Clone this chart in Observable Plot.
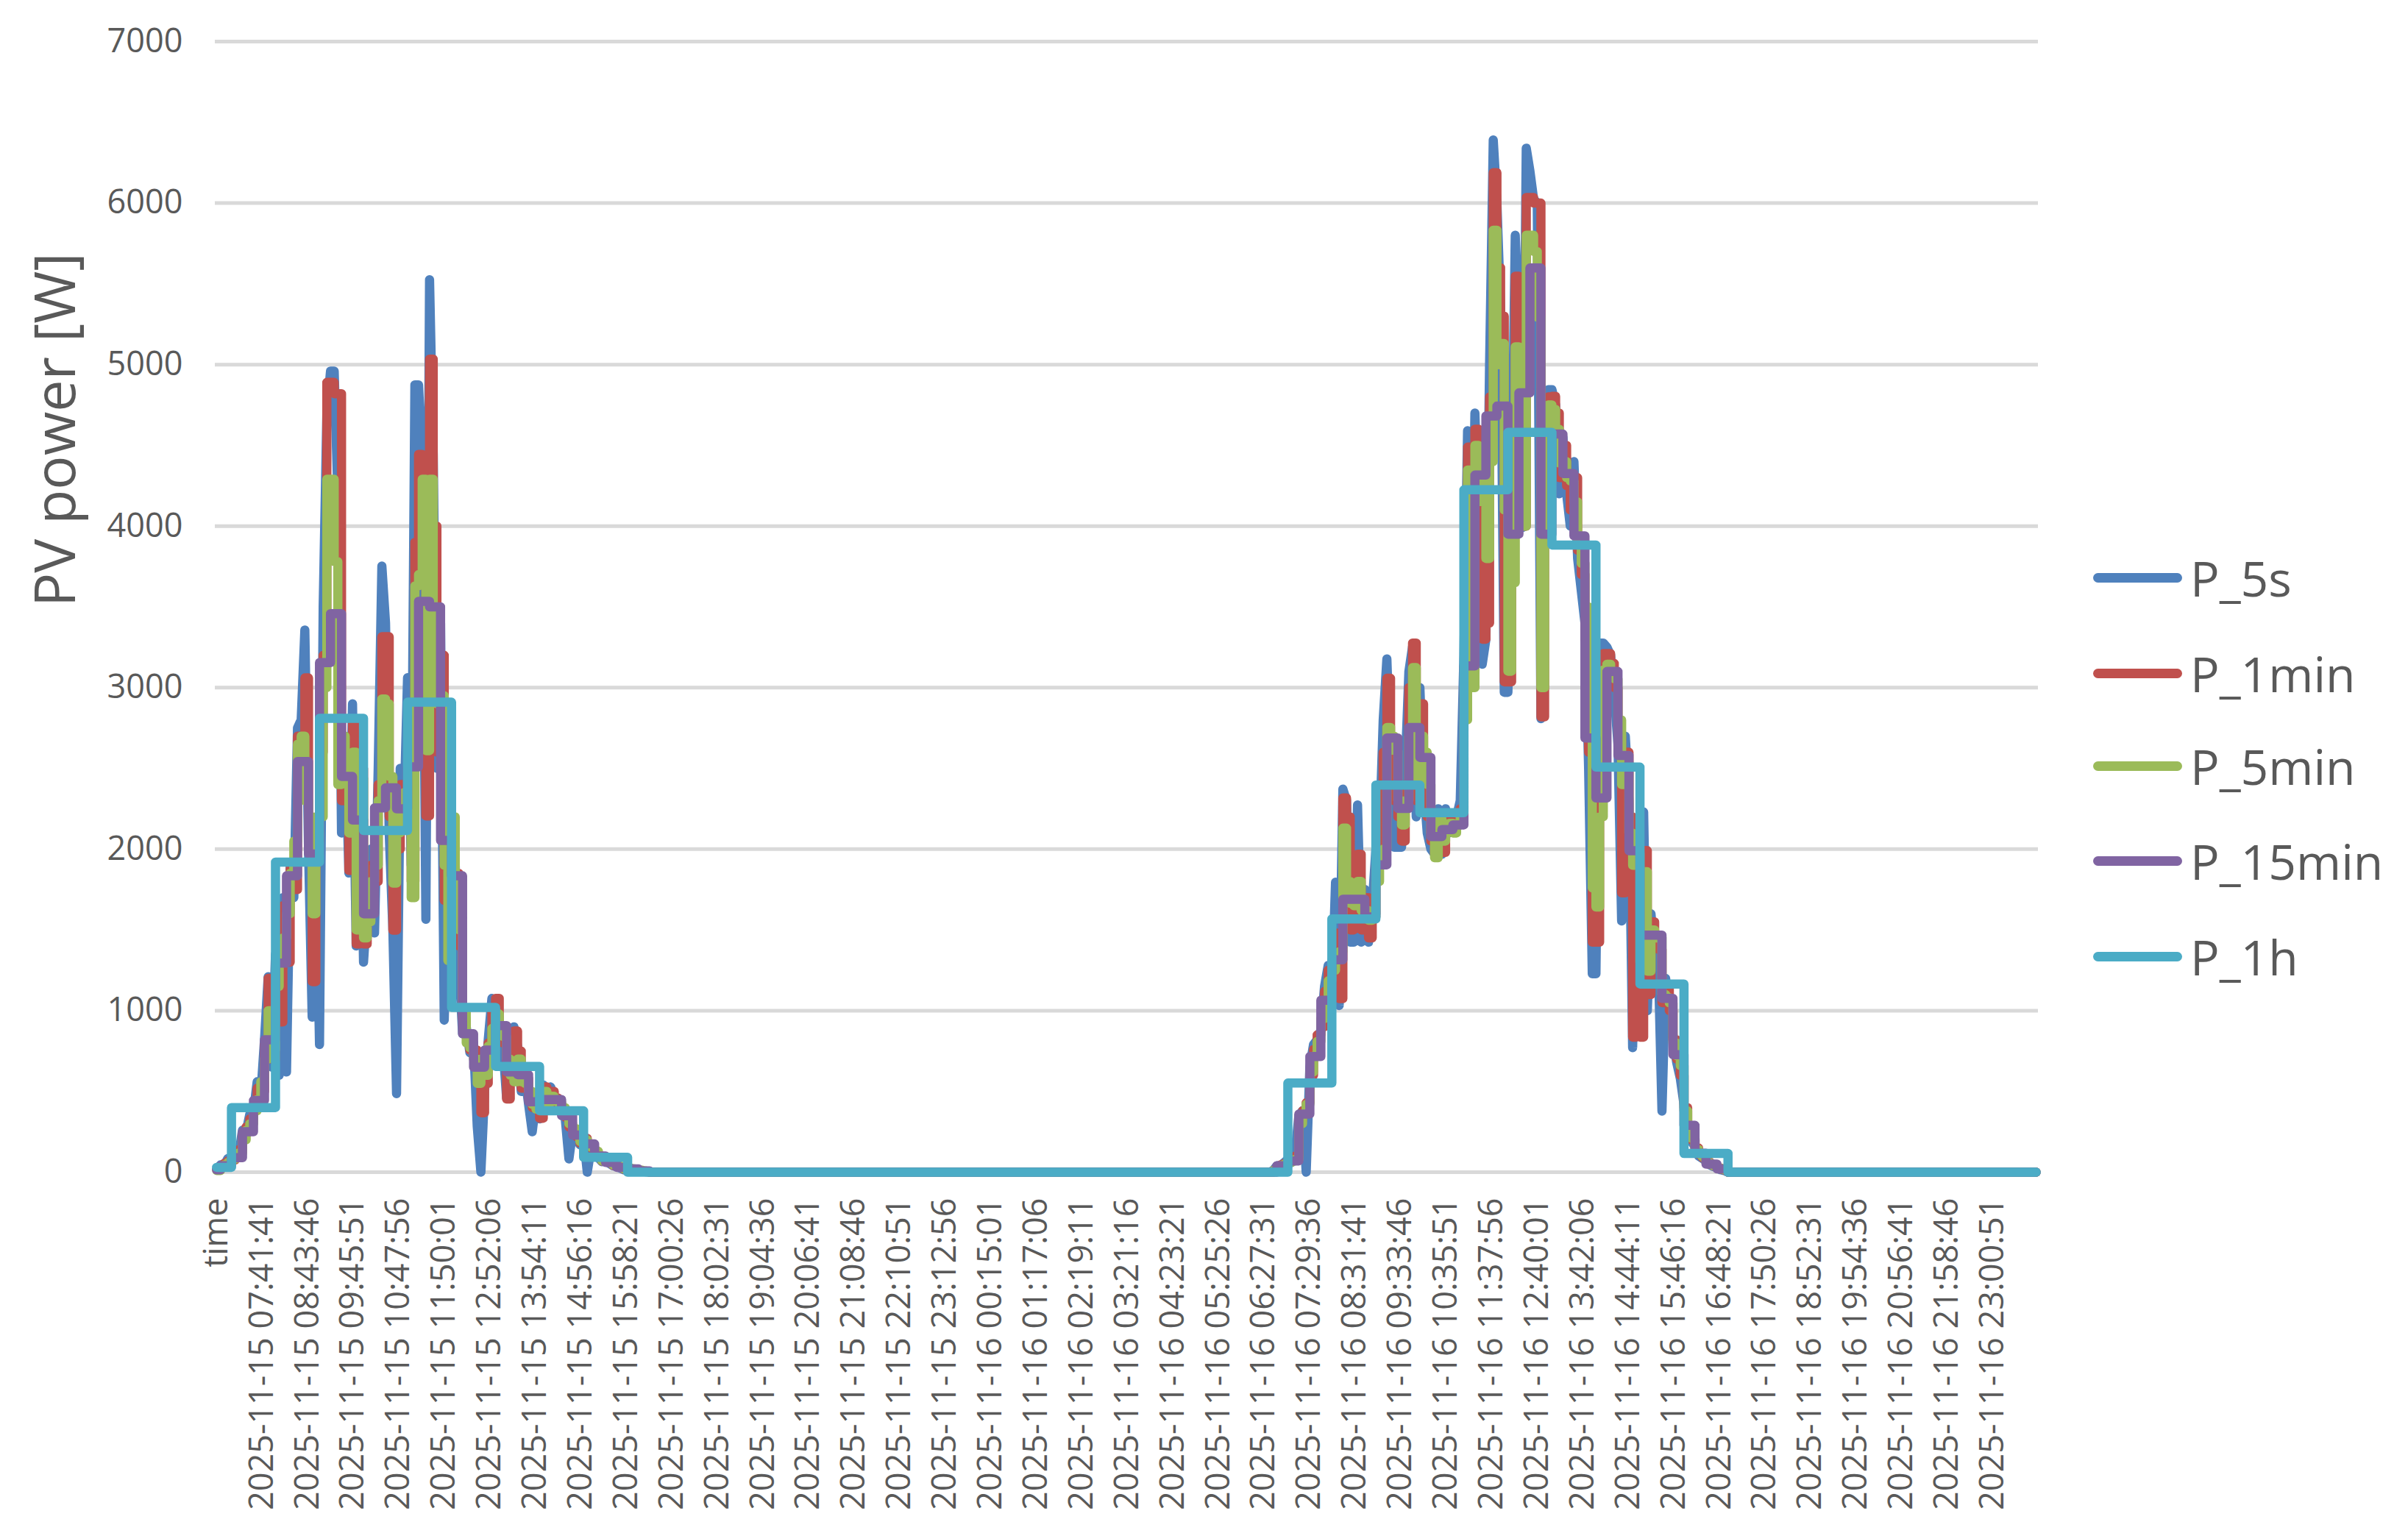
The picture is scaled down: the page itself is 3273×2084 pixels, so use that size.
<!DOCTYPE html>
<html><head><meta charset="utf-8">
<script src="https://cdn.jsdelivr.net/npm/d3@7"></script>
<script src="https://cdn.jsdelivr.net/npm/@observablehq/plot@0.6"></script>
<style>
html,body{margin:0;padding:0;background:#fff;}
#wrap{position:relative;width:3273px;height:2084px;overflow:hidden;font-family:"Open Sans",sans-serif;}
#wrap svg{position:absolute;left:0;top:0;}
.item{position:absolute;left:2845px;height:100px;display:flex;align-items:center;white-space:nowrap;}
.swatch{width:121px;height:13px;border-radius:6.5px;}
.lab{font-size:66px;color:#595959;margin-left:11px;line-height:1;}
</style></head>
<body><div id="wrap"></div>
<script>
// ---------- data ----------
const seriesNames = ["P_5s", "P_1min", "P_5min", "P_15min", "P_1h"];
const seriesColors = ["#4F81BD", "#C0504D", "#9BBB59", "#8064A2", "#4BACC6"];
const dataStart = "2025-11-15 06:39:41";
const dataEnd = "2025-11-16 23:59:55";

// P_5s, 5-minute readings, day 1 from 06:40, day 2 from 06:35
const p5s_d1 = [20,45,40,85,
 60,130,110,260,250,360,370,560,480,820,1210,650,
 1350,600,1700,620,1900,1700,2750,2800,3357,2000,960,2000,
 790,3500,4700,4960,4960,4200,2100,2700,1852,2900,1400,2600,
 1300,1650,2000,1481,2500,3753,3400,2100,1500,486,2500,2200,
 3062,1900,4874,4874,4400,1565,5526,4444,2500,3400,941,1800,
 2100,1900,1300,857,900,740,800,284,0,500,820,1076,
 1050,850,780,461,700,900,780,500,600,420,250,440,
 330,540,460,528,470,410,360,330,82,250,210,170,
 220,0,145,120,90,65,70,55,40,35,25,15,
 20,15,12,8,5,2,0];
const p5s_d2 = [0,10,40,35,60,
 80,60,120,350,380,0,650,790,820,880,1150,1280,
 1100,1795,1032,2372,2300,1424,1424,2274,1424,1750,1424,1650,
 2000,2100,2800,3178,2500,2012,2012,2012,2500,3100,3254,2200,
 3000,2400,2100,2000,1969,2250,1969,2250,2100,2150,2200,2300,
 3200,4591,3200,4700,4000,3145,3300,5000,6391,6000,5354,2971,
 2971,4200,5801,5200,3991,6340,6198,6025,6000,2808,4300,4845,
 4845,4750,4200,4550,4200,4000,4400,3800,3600,3400,2500,1228,
 1228,3276,3276,3250,3200,2950,2650,1555,2700,2300,771,1700,
 1200,2230,1000,1600,1350,1300,378,1200,950,850,680,580,
 420,260,190,160,100,85,70,45,35,28,15,10,
 0];

// P_1min
const p1min_d1 = [15,35,55,70,
 75,110,140,230,280,330,400,520,500,790,1200,700,
 1300,930,1650,1300,1880,1750,2700,2700,3060,2200,1180,2050,
 2600,3200,4890,4890,4820,4820,2300,2600,1868,2800,1413,2500,
 1413,1600,1900,1800,2400,3315,3315,2200,1498,2000,2400,2300,
 2400,1800,3900,4444,4300,2206,5034,4000,2600,3200,1683,1700,
 2155,1850,1400,950,857,756,756,650,368,550,800,1000,
 1076,880,800,453,650,874,750,520,580,450,400,420,
 334,528,450,500,460,420,380,340,280,260,220,180,
 210,160,150,125,95,68,72,58,42,38,28,18,
 22,18,14,10,6,3,0];
const p1min_d2 = [0,10,35,45,55,
 70,80,100,320,380,430,600,760,850,900,1120,1250,
 1150,1480,1075,2317,2200,1500,1700,1969,1500,1700,1450,1600,
 1900,2050,2600,3058,2600,2300,2200,2050,2400,3000,3276,2300,
 2900,2500,2200,2050,1969,2200,1980,2200,2150,2120,2200,2250,
 3000,4489,3100,4600,4100,3300,3400,4800,6188,5600,5300,3036,
 3036,4000,5547,5000,4000,6035,6035,6000,6000,2819,4200,4800,
 4804,4700,4300,4500,4250,4100,4300,3850,3700,3300,2600,1424,
 1424,2800,3211,3211,3150,3000,2700,1729,2600,2200,836,1800,
 836,1991,1100,1550,1400,1380,1050,1150,1000,820,700,600,
 400,270,200,150,110,90,65,48,38,26,18,12,
 0];

// P_5min
const p5min_d1 = [10,30,45,60,
 80,95,120,200,260,300,380,450,560,700,1000,760,
 1150,1300,1450,1600,1850,2050,2650,2700,2300,2150,1600,2200,
 2200,3000,4290,4290,3780,2400,2700,2550,2100,2600,1500,2440,
 1450,1550,1800,1900,2300,2930,2900,2450,1790,2100,2300,2350,
 2200,1700,3630,3700,4290,2610,4290,3300,2900,2950,1900,1310,
 2200,1800,1500,1000,800,770,700,550,700,600,780,890,
 980,900,840,700,600,560,700,560,550,500,420,390,
 420,500,430,470,450,430,400,350,300,270,230,190,
 200,170,155,130,100,70,75,60,45,40,30,20,
 25,20,15,12,8,4,0];
const p5min_d2 = [0,10,30,40,50,
 60,70,80,300,360,420,620,720,810,950,1060,1185,
 1250,1330,1365,2130,1800,1664,1650,1800,1620,1620,1560,1580,
 1800,1950,2000,2753,2700,2610,2300,2150,2300,2700,3124,2440,
 2700,2600,2400,2100,1947,2190,2050,2150,2160,2100,2150,2200,
 2800,4347,3000,4500,4300,4150,3800,4400,5832,5000,5130,4100,
 3102,3650,5110,4800,4000,5801,5801,5700,5293,3000,4100,4750,
 4723,4600,4390,4400,4300,4280,4150,3900,3770,3500,2800,1760,
 1642,2200,3110,3145,3100,3055,2800,2400,2540,2100,1900,1970,
 1300,1860,1244,1500,1450,1454,1100,1080,1048,800,720,660,
 380,280,210,140,115,96,60,50,40,25,20,15,
 0];

// P_15min, quarter-hour values from 06:30
const p15min_d1 = [15,40, 90,250,444,820, 1295,1835,2543,1970, 3155,3458,2450,2180,
 1600,2256,2380,2250, 2509,3534,3500,2054, 1835,857,650,756, 908,621,604,436,
 450,450,350,230, 175,100,60,30, 20,8,0];
const p15min_d2 = [0,40, 70,360,716,1065, 1315,1690,1690,1580, 1903,2688,2252,2753,
 2568,2078,2121,2150, 3134,4316,4682,4743, 3950,4825,5598,3950, 4570,4326,3940,2688,
 2317,3100,2580,1990, 1468,1468,1076,727, 290,117,50,20, 0];

// P_1h, hourly values from 06:00
const p1h_d1 = [30,400,1920,2810,2115,2910,1020,655,380,92,0];
const p1h_d2 = [0,552,1568,2397,2226,4225,4580,3883,2508,1165,116,0];

const yTicks = [0,1000,2000,3000,4000,5000,6000,7000];
const tickLabels = ["time",
 "2025-11-15 07:41:41","2025-11-15 08:43:46","2025-11-15 09:45:51","2025-11-15 10:47:56",
 "2025-11-15 11:50:01","2025-11-15 12:52:06","2025-11-15 13:54:11","2025-11-15 14:56:16",
 "2025-11-15 15:58:21","2025-11-15 17:00:26","2025-11-15 18:02:31","2025-11-15 19:04:36",
 "2025-11-15 20:06:41","2025-11-15 21:08:46","2025-11-15 22:10:51","2025-11-15 23:12:56",
 "2025-11-16 00:15:01","2025-11-16 01:17:06","2025-11-16 02:19:11","2025-11-16 03:21:16",
 "2025-11-16 04:23:21","2025-11-16 05:25:26","2025-11-16 06:27:31","2025-11-16 07:29:36",
 "2025-11-16 08:31:41","2025-11-16 09:33:46","2025-11-16 10:35:51","2025-11-16 11:37:56",
 "2025-11-16 12:40:01","2025-11-16 13:42:06","2025-11-16 14:44:11","2025-11-16 15:46:16",
 "2025-11-16 16:48:21","2025-11-16 17:50:26","2025-11-16 18:52:31","2025-11-16 19:54:36",
 "2025-11-16 20:56:41","2025-11-16 21:58:46","2025-11-16 23:00:51"];

// ---------- build ----------
const T0 = Date.UTC(2025, 10, 15);
function toH(s) {
  const [d, t] = s.split(" ");
  const [Y, M, D] = d.split("-").map(Number);
  const [hh, mm, ss = 0] = t.split(":").map(Number);
  return (Date.UTC(Y, M - 1, D, hh, mm, ss) - T0) / 3.6e6;
}
const H_START = toH(dataStart), H_END = toH(dataEnd);
function rows(parts) {
  const out = [];
  for (const [start, step, values] of parts) {
    const s = toH(start);
    values.forEach((v, i) => out.push({h: Math.max(s + i * step / 60, H_START), v}));
  }
  out.push({h: H_END, v: 0});
  return out;
}
const series = [
  {rows: rows([["2025-11-15 06:40", 5, p5s_d1], ["2025-11-16 06:35", 5, p5s_d2]]), curve: "linear"},
  {rows: rows([["2025-11-15 06:40", 5, p1min_d1], ["2025-11-16 06:35", 5, p1min_d2]]), curve: "step-after"},
  {rows: rows([["2025-11-15 06:40", 5, p5min_d1], ["2025-11-16 06:35", 5, p5min_d2]]), curve: "step-after"},
  {rows: rows([["2025-11-15 06:30", 15, p15min_d1], ["2025-11-16 06:30", 15, p15min_d2]]), curve: "step-after"},
  {rows: rows([["2025-11-15 06:00", 60, p1h_d1], ["2025-11-16 06:00", 60, p1h_d2]]), curve: "step-after"}
];
const tickPos = tickLabels.map(l => l === "time" ? H_START - 5 / 3600 : toH(l));
const labelByPos = new Map(tickPos.map((p, i) => [p, tickLabels[i]]));

const chart = Plot.plot({
  width: 2830, height: 2084,
  marginLeft: 292, marginRight: 60, marginTop: 56, marginBottom: 491,
  x: {type: "linear", domain: [6.63, 48.05]},
  y: {domain: [0, 7000]},
  style: {fontFamily: "'Open Sans', sans-serif", color: "#595959", background: "#fff", overflow: "visible"},
  marks: [
    Plot.ruleY(yTicks, {stroke: "#d9d9d9", strokeWidth: 5}),
    Plot.axisY(yTicks, {tickSize: 0, tickPadding: 44, fontSize: 45, tickFormat: d => String(d), label: null}),
    Plot.axisX(tickPos, {tickSize: 0, tickPadding: 35, fontSize: 45, tickRotate: -90,
      tickFormat: d => labelByPos.get(d), label: null}),
    ...series.map((s, i) => Plot.line(s.rows, {x: "h", y: "v", stroke: seriesColors[i], strokeWidth: 12.5,
      curve: s.curve, strokeLinecap: "round", strokeLinejoin: "round"})),
    Plot.text(["PV power [W]"], {text: d => d, frameAnchor: "left", dx: -215, rotate: -90, fontSize: 77, fill: "#595959"})
  ]
});
const wrap = document.getElementById("wrap");
wrap.appendChild(chart);

// legend
const legendY = [785, 915, 1041, 1170, 1300];
seriesNames.forEach((n, i) => {
  const it = document.createElement("div");
  it.className = "item";
  it.style.top = (legendY[i] - 50) + "px";
  it.innerHTML = `<span class="swatch" style="background:${seriesColors[i]}"></span><span class="lab">${n}</span>`;
  wrap.appendChild(it);
});
</script>
</body></html>
